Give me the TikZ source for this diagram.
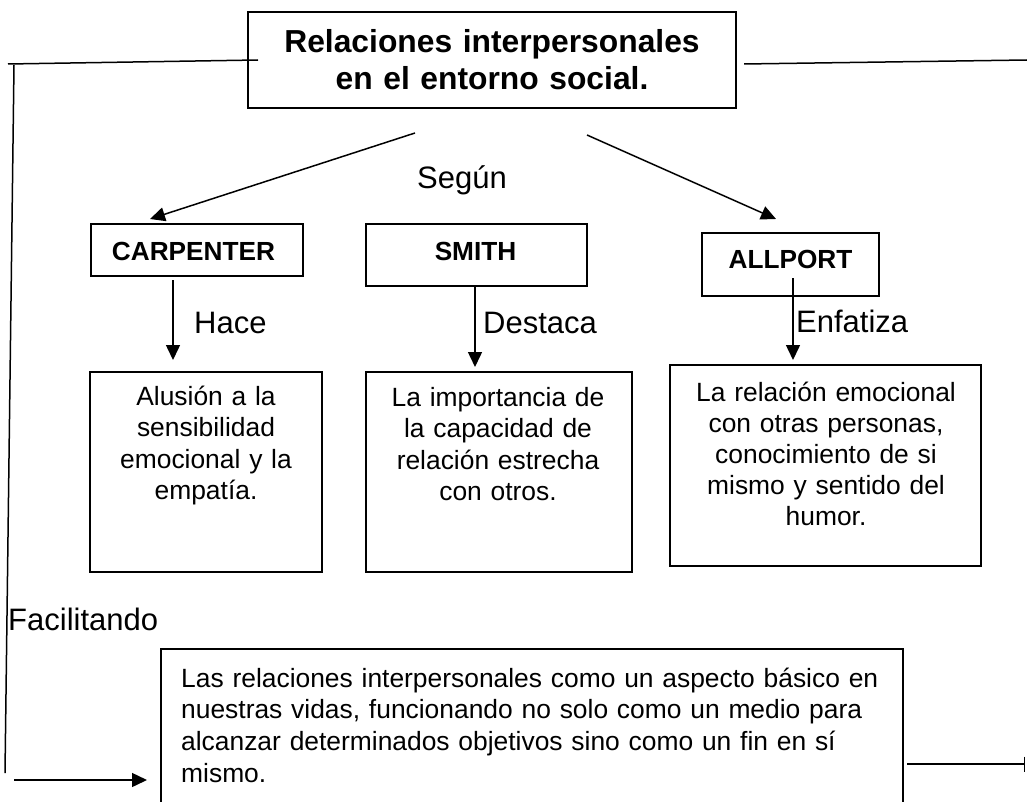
\documentclass[tikz,border=0pt]{standalone}
\usepackage{fontspec}
\setmainfont{Liberation Sans}
\usetikzlibrary{arrows.meta}
\begin{document}
\begin{tikzpicture}[x=1pt,y=-1pt,
  boxshape/.style={draw, line width=1.8pt, inner sep=0pt},
  conn/.style={line width=1.5pt},
  arr/.style={conn, -{Triangle[length=15pt,width=14pt]}},
  barend/.style={conn, -{Bar[width=15pt,line width=1.5pt]}},
  boxtext/.style={inner sep=0pt, anchor=base, align=center,
     font=\fontsize{26.4}{31.5}\selectfont},
  bodytext/.style={inner sep=0pt, anchor=base west, align=left, text width=730pt,
     font=\fontsize{26.4}{31.7}\selectfont},
  authorlbl/.style={inner sep=0pt, anchor=base, font=\fontsize{26.2}{30}\selectfont\bfseries},
  lbl/.style={inner sep=0pt, anchor=base west, font=\fontsize{31}{36}\selectfont},
  titletext/.style={inner sep=0pt, anchor=base, align=center, text width=480pt,
     font=\fontsize{31.8}{37}\selectfont\bfseries}]
\clip (0,0) rectangle (1027,802);
\fill[white] (0,0) rectangle (1027,802);

% boxes
\node[boxshape, minimum width=488pt, minimum height=96pt] (title) at (492,60) {};
\node[boxshape, minimum width=212pt, minimum height=52pt] (carp) at (197,250) {};
\node[boxshape, minimum width=221pt, minimum height=62pt] (smith) at (476.5,255) {};
\node[boxshape, minimum width=177pt, minimum height=63pt] (allport) at (790.5,264.5) {};
\node[boxshape, minimum width=232pt, minimum height=200pt] (b1) at (206,472) {};
\node[boxshape, minimum width=266pt, minimum height=200pt] (b2) at (499,472) {};
\node[boxshape, minimum width=311pt, minimum height=201pt] (b3) at (825.5,465.5) {};
\node[boxshape, minimum width=742pt, minimum height=181pt] (bottom) at (532,739.5) {};

% texts
\node[titletext] (ttitle) at (492,53) {Relaciones interpersonales\\en el entorno social.};
\node[inner sep=0pt, anchor=base, font=\fontsize{31}{36}\selectfont] (segun) at (462,189) {Según};
\node[authorlbl] (tcarp) at (193.5,260) {CARPENTER};
\node[authorlbl] (tsmith) at (475.5,261) {SMITH};
\node[authorlbl] (tallport) at (790.5,269) {ALLPORT};
\node[lbl] (hace) at (194,333) {Hace};
\node[lbl] (destaca) at (483,333) {Destaca};
\node[lbl] (enfatiza) at (796,332) {Enfatiza};
\node[boxtext, text width=228pt] (t1) at (206,405) {Alusión a la\\sensibilidad\\emocional y la\\empatía.};
\node[boxtext, text width=262pt] (t2) at (498,406) {La importancia de\\la capacidad de\\relación estrecha\\con otros.};
\node[boxtext, text width=300pt, font=\fontsize{26.4}{31}\selectfont] (t3) at (826,401) {La relación emocional\\con otras personas,\\conocimiento de si\\mismo y sentido del\\humor.};
\node[lbl] (facil) at (8,630) {Facilitando};
\node[bodytext] (tbottom) at (181,687) {Las relaciones interpersonales como un aspecto básico en\\nuestras vidas, funcionando no solo como un medio para\\alcanzar determinados objetivos sino como un fin en sí\\mismo.};

% connector end points
\coordinate (tlA) at (8,64);
\coordinate (tlB) at (258,60);
\coordinate (vA) at (14,65);
\coordinate (vB) at (5,773);
\coordinate (baA) at (14,780);
\coordinate (baB) at (147,780);
\coordinate (trA) at (744,64);
\coordinate (trB) at (1027,60);
\coordinate (brA) at (907,764);
\coordinate (brB) at (1025,764);
\coordinate (dLA) at (415,133);
\coordinate (dLB) at (150,219);
\coordinate (dRA) at (587,135);
\coordinate (dRB) at (776,219);
\coordinate (c1A) at (173,280);
\coordinate (c1B) at (173,360);
\coordinate (c2A) at (475,286);
\coordinate (c2B) at (475,367);
\coordinate (c3A) at (793,278);
\coordinate (c3B) at (793,360);

% connectors
\draw[conn] (tlA) -- (tlB);
\draw[conn] (vA) -- (vB);
\draw[arr] (baA) -- (baB);
\draw[conn] (trA) -- (trB);
\draw[barend] (brA) -- (brB);
\draw[arr] (dLA) -- (dLB);
\draw[arr] (dRA) -- (dRB);
\draw[arr] (c1A) -- (c1B);
\draw[arr] (c2A) -- (c2B);
\draw[arr] (c3A) -- (c3B);
\end{tikzpicture}
\end{document}
